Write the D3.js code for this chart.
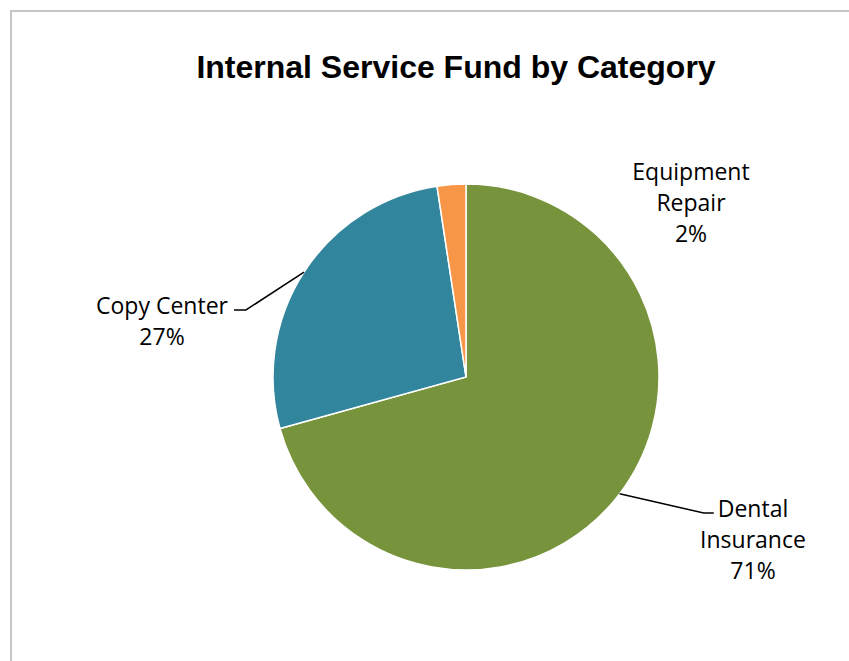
<!DOCTYPE html>
<html>
<head>
<meta charset="utf-8">
<script src="https://cdn.jsdelivr.net/npm/d3@7"></script>
<style>
  html, body { margin: 0; padding: 0; background: #fff; }
  svg { display: block; }
</style>
</head>
<body>
<script>
// Fund shares by category (percent of total)
const categories = ["Dental Insurance", "Copy Center", "Equipment Repair"];
const values = [70.7, 26.9, 2.4];
const colors = ["#77933C", "#31859C", "#F79646"];
// label lines per category (name split across lines)
const labelLines = [["Dental", "Insurance"], ["Copy Center"], ["Equipment", "Repair"]];

const W = 849, H = 661;
const cx = 466, cy = 377, R = 193;

const svg = d3.select("body").append("svg")
  .attr("width", W).attr("height", H);

// chart frame
svg.append("rect")
  .attr("x", 11).attr("y", 11)
  .attr("width", W + 20).attr("height", H + 20)
  .attr("fill", "#fff")
  .attr("stroke", "#c6c6c6").attr("stroke-width", 2);

svg.append("text")
  .attr("x", 456).attr("y", 78)
  .attr("text-anchor", "middle")
  .attr("font-family", "Liberation Sans, Arial, sans-serif")
  .attr("font-weight", "bold")
  .attr("font-size", 32)
  .attr("fill", "#000")
  .text("Internal Service Fund by Category");

const total = d3.sum(values);
const pie = d3.pie().sort(null).value(d => d.v);
const arcs = pie(categories.map((c, i) => ({ c, v: values[i], i })));
const arc = d3.arc().innerRadius(0).outerRadius(R);

const g = svg.append("g").attr("transform", `translate(${cx},${cy})`);
g.selectAll("path").data(arcs).enter().append("path")
  .attr("d", arc)
  .attr("fill", d => colors[d.data.i])
  .attr("stroke", "#fff")
  .attr("stroke-width", 1.5);

// label placement (text anchor point, baseline of first line) and leader lines
const labelPos = [
  { x: 753, y: 517, leader: true, side: "right" },
  { x: 162, y: 314, leader: true, side: "left" },
  { x: 691, y: 180, leader: false }
];
const lineH = 31;
const font = "Open Sans, Noto Sans, sans-serif";
const fs = 23;

arcs.forEach((d, k) => {
  const p = labelPos[k];
  const lines = labelLines[k].concat([Math.round(d.data.v / total * 100) + "%"]);
  const t = svg.append("text")
    .attr("text-anchor", "middle")
    .attr("font-family", font)
    .attr("font-size", fs)
    .attr("fill", "#000");
  lines.forEach((s, j) => {
    t.append("tspan").attr("x", p.x).attr("y", p.y + j * lineH).text(s);
  });
  if (p.leader) {
    const mid = (d.startAngle + d.endAngle) / 2;
    const ex = cx + R * Math.sin(mid), ey = cy - R * Math.cos(mid);
    const firstW = t.select("tspan").node().getComputedTextLength();
    const yl = p.y - 4;
    let pts;
    if (p.side === "right") {
      const xEnd = p.x - firstW / 2 - 4;
      pts = [[ex, ey], [xEnd - 10, yl], [xEnd, yl]];
    } else {
      const xEnd = p.x + firstW / 2 + 6;
      pts = [[ex, ey], [xEnd + 12, yl], [xEnd, yl]];
    }
    svg.append("path")
      .attr("d", d3.line()(pts))
      .attr("fill", "none")
      .attr("stroke", "#000")
      .attr("stroke-width", 1.5);
  }
});
</script>
</body>
</html>
